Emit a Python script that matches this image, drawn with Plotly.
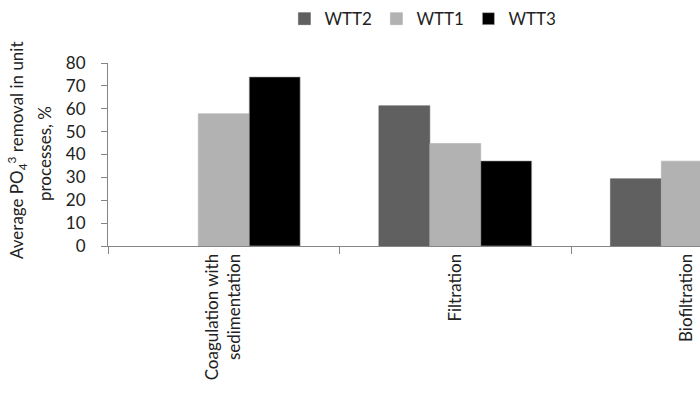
import plotly.graph_objects as go

# Unit processes and average phosphate removal (%) per treatment train
categories = ["Coagulation with<br>sedimentation", "Filtration", "Biofiltration"]
wtt2 = [None, 61.3, 29.4]
wtt1 = [57.8, 44.8, 37.1]
wtt3 = [73.9, 37.2, None]
y_ticks = [0, 10, 20, 30, 40, 50, 60, 70, 80]
y_title_lines = ["Average PO<sub>4</sub><sup>3</sup> removal in unit", "processes, %"]

font_family = "Lato, 'Open Sans', sans-serif"
axis_color = "#868686"

fig = go.Figure()
series = [("WTT2", wtt2, "#606060"), ("WTT1", wtt1, "#b2b2b2"), ("WTT3", wtt3, "#000000")]
for name, vals, color in series:
    fig.add_trace(go.Bar(
        x=categories, y=vals, name=name,
        marker=dict(color=color, line=dict(color="#b0b0b0" if color == "#000000" else color, width=0.6)),
    ))

fig.update_layout(
    width=700, height=409,
    margin=dict(l=108, r=0, t=63, b=163, autoexpand=False),
    paper_bgcolor="white", plot_bgcolor="white",
    barmode="group", bargap=0.34, bargroupgap=0,
    font=dict(family=font_family, size=16, color="#222222"),
    legend=dict(orientation="h", x=0.298, xanchor="left", y=1.24, yanchor="middle",
                font=dict(size=17), itemwidth=30, entrywidth=47, entrywidthmode="pixels",
                traceorder="normal"),
    showlegend=True,
)

# Two-line rotated y-axis title
for text, xpx, ypx in [(y_title_lines[0], 17, 150), (y_title_lines[1], 44, 154)]:
    fig.add_annotation(
        text=text, textangle=-90, showarrow=False,
        xref="paper", yref="paper",
        x=(xpx - 108) / 592, y=(246 - ypx) / 183,
        xanchor="center", yanchor="middle",
        font=dict(size=17),
    )

fig.update_xaxes(
    range=[-0.5, 2.057],
    showline=True, linecolor=axis_color, linewidth=1,
    ticks="outside", tickson="boundaries", ticklen=7, tickcolor=axis_color,
    tickangle=-90, tickfont=dict(size=17),
    showgrid=False, zeroline=False,
)
fig.update_yaxes(
    range=[0, 80], tickvals=y_ticks,
    showline=True, linecolor=axis_color, linewidth=1,
    ticks="outside", ticklen=6, tickcolor=axis_color,
    ticklabelstandoff=12,
    showgrid=False, zeroline=False,
    tickfont=dict(size=17),
)

fig.write_html("out.html")
